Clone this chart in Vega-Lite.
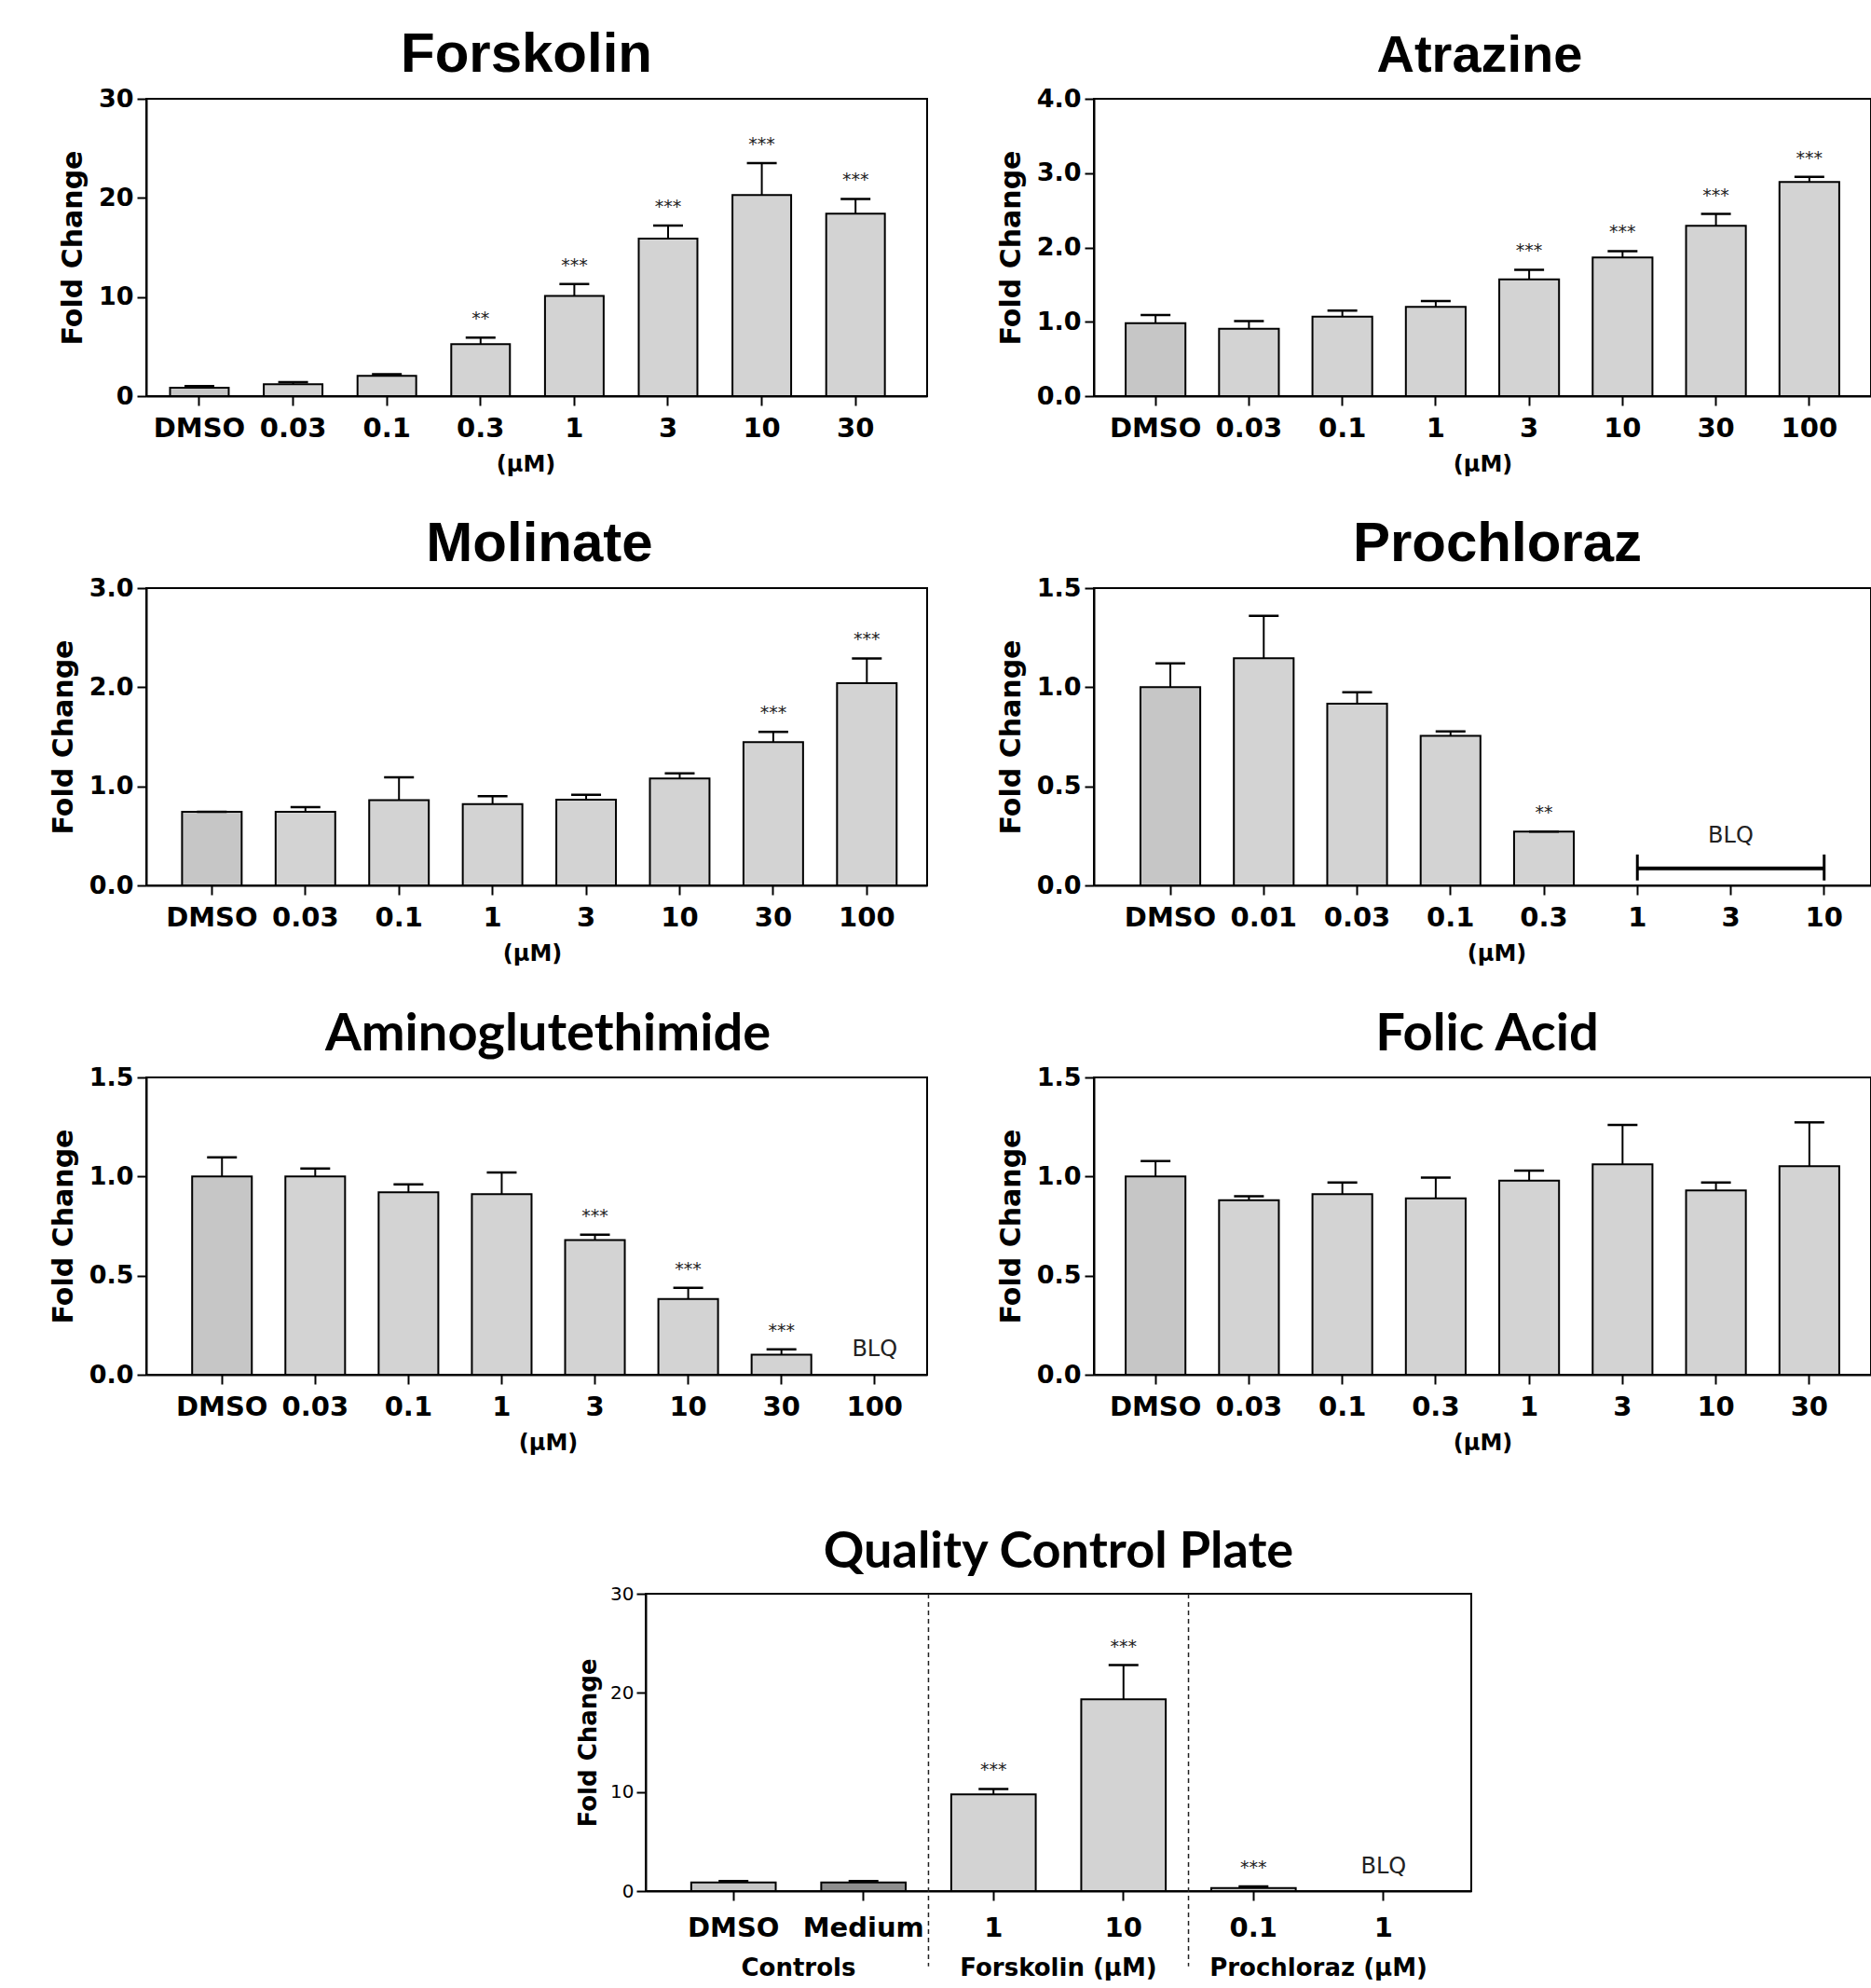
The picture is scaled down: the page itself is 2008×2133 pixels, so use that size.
{
  "$schema": "https://vega.github.io/schema/vega-lite/v6.json",
  "padding": {"left": 52, "top": 28, "right": 0, "bottom": 0},
  "background": "white",
  "datasets": {
    "forskolin": [
      {"dose": "DMSO", "mean": 0.85, "upper": 1.0, "sig": ""},
      {"dose": "0.03", "mean": 1.2, "upper": 1.4, "sig": ""},
      {"dose": "0.1", "mean": 2.05, "upper": 2.2, "sig": ""},
      {"dose": "0.3", "mean": 5.25, "upper": 5.9, "sig": "**"},
      {"dose": "1", "mean": 10.1, "upper": 11.3, "sig": "***"},
      {"dose": "3", "mean": 15.9, "upper": 17.2, "sig": "***"},
      {"dose": "10", "mean": 20.3, "upper": 23.5, "sig": "***"},
      {"dose": "30", "mean": 18.4, "upper": 19.9, "sig": "***"}
    ],
    "atrazine": [
      {"dose": "DMSO", "mean": 0.98, "upper": 1.09, "sig": ""},
      {"dose": "0.03", "mean": 0.905, "upper": 1.01, "sig": ""},
      {"dose": "0.1", "mean": 1.07, "upper": 1.15, "sig": ""},
      {"dose": "1", "mean": 1.2, "upper": 1.28, "sig": ""},
      {"dose": "3", "mean": 1.57, "upper": 1.7, "sig": "***"},
      {"dose": "10", "mean": 1.865, "upper": 1.95, "sig": "***"},
      {"dose": "30", "mean": 2.29, "upper": 2.45, "sig": "***"},
      {"dose": "100", "mean": 2.88, "upper": 2.95, "sig": "***"}
    ],
    "molinate": [
      {"dose": "DMSO", "mean": 0.743, "upper": 0.743, "sig": ""},
      {"dose": "0.03", "mean": 0.743, "upper": 0.79, "sig": ""},
      {"dose": "0.1", "mean": 0.86, "upper": 1.09, "sig": ""},
      {"dose": "1", "mean": 0.82, "upper": 0.9, "sig": ""},
      {"dose": "3", "mean": 0.865, "upper": 0.915, "sig": ""},
      {"dose": "10", "mean": 1.08, "upper": 1.13, "sig": ""},
      {"dose": "30", "mean": 1.445, "upper": 1.55, "sig": "***"},
      {"dose": "100", "mean": 2.04, "upper": 2.29, "sig": "***"}
    ],
    "prochloraz": [
      {"dose": "DMSO", "mean": 1.0, "upper": 1.12, "sig": ""},
      {"dose": "0.01", "mean": 1.146, "upper": 1.36, "sig": ""},
      {"dose": "0.03", "mean": 0.917, "upper": 0.974, "sig": ""},
      {"dose": "0.1", "mean": 0.755, "upper": 0.777, "sig": ""},
      {"dose": "0.3", "mean": 0.272, "upper": 0.272, "sig": "**"}
    ],
    "prochloraz_blq": [{"start": "1", "end": "10", "level": 0.086}],
    "prochloraz_caps": [
      {"dose": "1", "lo": 0.025, "hi": 0.156},
      {"dose": "10", "lo": 0.025, "hi": 0.156}
    ],
    "prochloraz_note": [{"dose": "3", "y": 0.25, "note": "BLQ"}],
    "amino": [
      {"dose": "DMSO", "mean": 1.0, "upper": 1.097, "sig": ""},
      {"dose": "0.03", "mean": 1.0, "upper": 1.04, "sig": ""},
      {"dose": "0.1", "mean": 0.92, "upper": 0.96, "sig": ""},
      {"dose": "1", "mean": 0.911, "upper": 1.02, "sig": ""},
      {"dose": "3", "mean": 0.679, "upper": 0.706, "sig": "***"},
      {"dose": "10", "mean": 0.382, "upper": 0.439, "sig": "***"},
      {"dose": "30", "mean": 0.101, "upper": 0.128, "sig": "***"}
    ],
    "amino_note": [{"dose": "100", "y": 0.126, "note": "BLQ"}],
    "folic": [
      {"dose": "DMSO", "mean": 1.0, "upper": 1.078, "sig": ""},
      {"dose": "0.03", "mean": 0.881, "upper": 0.9, "sig": ""},
      {"dose": "0.1", "mean": 0.911, "upper": 0.97, "sig": ""},
      {"dose": "0.3", "mean": 0.89, "upper": 0.995, "sig": ""},
      {"dose": "1", "mean": 0.979, "upper": 1.03, "sig": ""},
      {"dose": "3", "mean": 1.061, "upper": 1.26, "sig": ""},
      {"dose": "10", "mean": 0.93, "upper": 0.97, "sig": ""},
      {"dose": "30", "mean": 1.052, "upper": 1.273, "sig": ""}
    ],
    "qc": [
      {"key": "C|DMSO", "mean": 0.86, "upper": 1.0, "sig": ""},
      {"key": "C|Medium", "mean": 0.86, "upper": 1.0, "sig": ""},
      {"key": "F|1", "mean": 9.75, "upper": 10.3, "sig": "***"},
      {"key": "F|10", "mean": 19.35, "upper": 22.8, "sig": "***"},
      {"key": "P|0.1", "mean": 0.3, "upper": 0.48, "sig": "***"}
    ],
    "qc_note": [{"key": "P|1", "y": 2.46, "note": "BLQ"}],
    "qc_groups": [{"group": "Forskolin (µM)"}, {"group": "Prochloraz (µM)"}]
  },
  "concat": [
    {
      "width": 838, "height": 319,
      "title": {"text": "Forskolin", "font": "Liberation Sans", "fontSize": 60, "fontWeight": "bold", "baseline": "alphabetic", "offset": -45, "dx": -11, "color": "black"},
      "data": {"name": "forskolin"},
      "encoding": {"x": {"field": "dose", "type": "nominal", "title": "(µM)", "scale": {"domain": ["DMSO", "0.03", "0.1", "0.3", "1", "3", "10", "30"], "paddingInner": 0.374, "paddingOuter": 0.352, "align": 0.36}, "axis": {"titleX": 407}}},
      "layer": [
        {"mark": {"type": "bar", "stroke": "black", "strokeWidth": 2}, "encoding": {"y": {"field": "mean", "type": "quantitative", "title": "Fold Change", "scale": {"domain": [0, 30], "nice": false}, "axis": {"values": [0, 10, 20, 30]}}, "fill": {"condition": {"test": "datum.dose === 'DMSO'", "value": "#c6c6c6"}, "value": "#d3d3d3"}}},
        {"mark": {"type": "rule", "color": "black", "strokeWidth": 2}, "encoding": {"y": {"field": "mean", "type": "quantitative", "title": "Fold Change"}, "y2": {"field": "upper"}}},
        {"mark": {"type": "tick", "color": "black", "thickness": 2.5, "size": 32, "opacity": 1}, "encoding": {"y": {"field": "upper", "type": "quantitative", "title": "Fold Change"}}},
        {"mark": {"type": "text", "baseline": "alphabetic", "dy": -14, "fontSize": 19, "color": "#222"}, "encoding": {"y": {"field": "upper", "type": "quantitative", "title": "Fold Change"}, "text": {"field": "sig"}}}
      ]
    },
    {
      "width": 834, "height": 319,
      "title": {"text": "Atrazine", "font": "Liberation Sans", "fontSize": 56, "fontWeight": "bold", "baseline": "alphabetic", "offset": -41, "dx": -3, "color": "black"},
      "data": {"name": "atrazine"},
      "encoding": {"x": {"field": "dose", "type": "nominal", "title": "(µM)", "scale": {"domain": ["DMSO", "0.03", "0.1", "1", "3", "10", "30", "100"], "paddingInner": 0.36, "paddingOuter": 0.34}}},
      "layer": [
        {"mark": {"type": "bar", "stroke": "black", "strokeWidth": 2}, "encoding": {"y": {"field": "mean", "type": "quantitative", "title": "Fold Change", "scale": {"domain": [0, 4], "nice": false}, "axis": {"values": [0, 1, 2, 3, 4], "format": ".1f"}}, "fill": {"condition": {"test": "datum.dose === 'DMSO'", "value": "#c6c6c6"}, "value": "#d3d3d3"}}},
        {"mark": {"type": "rule", "color": "black", "strokeWidth": 2}, "encoding": {"y": {"field": "mean", "type": "quantitative", "title": "Fold Change"}, "y2": {"field": "upper"}}},
        {"mark": {"type": "tick", "color": "black", "thickness": 2.5, "size": 32, "opacity": 1}, "encoding": {"y": {"field": "upper", "type": "quantitative", "title": "Fold Change"}}},
        {"mark": {"type": "text", "baseline": "alphabetic", "dy": -14, "fontSize": 19, "color": "#222"}, "encoding": {"y": {"field": "upper", "type": "quantitative", "title": "Fold Change"}, "text": {"field": "sig"}}}
      ]
    },
    {
      "width": 838, "height": 319,
      "title": {"text": "Molinate", "font": "Liberation Sans", "fontSize": 60, "fontWeight": "bold", "baseline": "alphabetic", "offset": -45, "dx": 3, "color": "black"},
      "data": {"name": "molinate"},
      "encoding": {"x": {"field": "dose", "type": "nominal", "title": "(µM)", "scale": {"domain": ["DMSO", "0.03", "0.1", "1", "3", "10", "30", "100"], "paddingInner": 0.363, "paddingOuter": 0.354, "align": 0.54}, "axis": {"titleX": 414}}},
      "layer": [
        {"mark": {"type": "bar", "stroke": "black", "strokeWidth": 2}, "encoding": {"y": {"field": "mean", "type": "quantitative", "title": "Fold Change", "scale": {"domain": [0, 3], "nice": false}, "axis": {"values": [0, 1, 2, 3], "format": ".1f"}}, "fill": {"condition": {"test": "datum.dose === 'DMSO'", "value": "#c6c6c6"}, "value": "#d3d3d3"}}},
        {"mark": {"type": "rule", "color": "black", "strokeWidth": 2}, "encoding": {"y": {"field": "mean", "type": "quantitative", "title": "Fold Change"}, "y2": {"field": "upper"}}},
        {"mark": {"type": "tick", "color": "black", "thickness": 2.5, "size": 32, "opacity": 1}, "encoding": {"y": {"field": "upper", "type": "quantitative", "title": "Fold Change"}}},
        {"mark": {"type": "text", "baseline": "alphabetic", "dy": -14, "fontSize": 19, "color": "#222"}, "encoding": {"y": {"field": "upper", "type": "quantitative", "title": "Fold Change"}, "text": {"field": "sig"}}}
      ]
    },
    {
      "width": 834, "height": 319,
      "title": {"text": "Prochloraz", "font": "Liberation Sans", "fontSize": 60, "fontWeight": "bold", "baseline": "alphabetic", "offset": -45, "dx": 16, "color": "black"},
      "data": {"name": "prochloraz"},
      "encoding": {"x": {"field": "dose", "type": "nominal", "title": "(µM)", "scale": {"domain": ["DMSO", "0.01", "0.03", "0.1", "0.3", "1", "3", "10"], "paddingInner": 0.36, "paddingOuter": 0.34, "align": 0.733}, "axis": {"titleX": 432}}},
      "layer": [
        {"mark": {"type": "bar", "stroke": "black", "strokeWidth": 2}, "encoding": {"y": {"field": "mean", "type": "quantitative", "title": "Fold Change", "scale": {"domain": [0, 1.5], "nice": false}, "axis": {"values": [0, 0.5, 1, 1.5], "format": ".1f"}}, "fill": {"condition": {"test": "datum.dose === 'DMSO'", "value": "#c6c6c6"}, "value": "#d3d3d3"}}},
        {"mark": {"type": "rule", "color": "black", "strokeWidth": 2}, "encoding": {"y": {"field": "mean", "type": "quantitative", "title": "Fold Change"}, "y2": {"field": "upper"}}},
        {"mark": {"type": "tick", "color": "black", "thickness": 2.5, "size": 32, "opacity": 1}, "encoding": {"y": {"field": "upper", "type": "quantitative", "title": "Fold Change"}}},
        {"mark": {"type": "text", "baseline": "alphabetic", "dy": -14, "fontSize": 19, "color": "#222"}, "encoding": {"y": {"field": "upper", "type": "quantitative", "title": "Fold Change"}, "text": {"field": "sig"}}},
        {"data": {"name": "prochloraz_blq"}, "mark": {"type": "rule", "color": "black", "strokeWidth": 4}, "encoding": {"x": {"field": "start", "type": "nominal", "title": "(µM)"}, "x2": {"field": "end"}, "y": {"field": "level", "type": "quantitative", "title": "Fold Change"}}},
        {"data": {"name": "prochloraz_caps"}, "mark": {"type": "rule", "color": "black", "strokeWidth": 3}, "encoding": {"y": {"field": "lo", "type": "quantitative", "title": "Fold Change"}, "y2": {"field": "hi"}}},
        {"data": {"name": "prochloraz_note"}, "mark": {"type": "text", "baseline": "middle", "fontSize": 24, "color": "#222"}, "encoding": {"y": {"field": "y", "type": "quantitative", "title": "Fold Change"}, "text": {"field": "note"}}}
      ]
    },
    {
      "width": 838, "height": 319,
      "title": {"text": "Aminoglutethimide", "font": "Lato", "fontSize": 56, "fontWeight": "bold", "baseline": "alphabetic", "offset": -41, "dx": 12, "color": "black"},
      "data": {"name": "amino"},
      "encoding": {"x": {"field": "dose", "type": "nominal", "title": "(µM)", "scale": {"domain": ["DMSO", "0.03", "0.1", "1", "3", "10", "30", "100"], "paddingInner": 0.36, "paddingOuter": 0.367, "align": 0.67}, "axis": {"titleX": 431}}},
      "layer": [
        {"mark": {"type": "bar", "stroke": "black", "strokeWidth": 2}, "encoding": {"y": {"field": "mean", "type": "quantitative", "title": "Fold Change", "scale": {"domain": [0, 1.5], "nice": false}, "axis": {"values": [0, 0.5, 1, 1.5], "format": ".1f"}}, "fill": {"condition": {"test": "datum.dose === 'DMSO'", "value": "#c6c6c6"}, "value": "#d3d3d3"}}},
        {"mark": {"type": "rule", "color": "black", "strokeWidth": 2}, "encoding": {"y": {"field": "mean", "type": "quantitative", "title": "Fold Change"}, "y2": {"field": "upper"}}},
        {"mark": {"type": "tick", "color": "black", "thickness": 2.5, "size": 32, "opacity": 1}, "encoding": {"y": {"field": "upper", "type": "quantitative", "title": "Fold Change"}}},
        {"mark": {"type": "text", "baseline": "alphabetic", "dy": -14, "fontSize": 19, "color": "#222"}, "encoding": {"y": {"field": "upper", "type": "quantitative", "title": "Fold Change"}, "text": {"field": "sig"}}},
        {"data": {"name": "amino_note"}, "mark": {"type": "text", "baseline": "middle", "fontSize": 24, "color": "#222"}, "encoding": {"y": {"field": "y", "type": "quantitative", "title": "Fold Change"}, "text": {"field": "note"}}}
      ]
    },
    {
      "width": 834, "height": 319,
      "title": {"text": "Folic Acid", "font": "Lato", "fontSize": 56, "fontWeight": "bold", "baseline": "alphabetic", "offset": -41, "dx": 5, "color": "black"},
      "data": {"name": "folic"},
      "encoding": {"x": {"field": "dose", "type": "nominal", "title": "(µM)", "scale": {"domain": ["DMSO", "0.03", "0.1", "0.3", "1", "3", "10", "30"], "paddingInner": 0.36, "paddingOuter": 0.34}}},
      "layer": [
        {"mark": {"type": "bar", "stroke": "black", "strokeWidth": 2}, "encoding": {"y": {"field": "mean", "type": "quantitative", "title": "Fold Change", "scale": {"domain": [0, 1.5], "nice": false}, "axis": {"values": [0, 0.5, 1, 1.5], "format": ".1f"}}, "fill": {"condition": {"test": "datum.dose === 'DMSO'", "value": "#c6c6c6"}, "value": "#d3d3d3"}}},
        {"mark": {"type": "rule", "color": "black", "strokeWidth": 2}, "encoding": {"y": {"field": "mean", "type": "quantitative", "title": "Fold Change"}, "y2": {"field": "upper"}}},
        {"mark": {"type": "tick", "color": "black", "thickness": 2.5, "size": 32, "opacity": 1}, "encoding": {"y": {"field": "upper", "type": "quantitative", "title": "Fold Change"}}}
      ]
    },
    {
      "vconcat": [
        {"width": 10, "height": 29, "data": {"values": []}, "mark": "point", "encoding": {}, "view": {"stroke": null}},
        {
          "hconcat": [
            {"width": 536, "height": 319, "data": {"values": []}, "mark": "point", "encoding": {}, "view": {"stroke": null}},
            {
              "width": 886, "height": 319,
              "title": {"text": "Quality Control Plate", "font": "Lato", "fontSize": 54, "fontWeight": "bold", "baseline": "alphabetic", "offset": -36, "color": "black"},
              "layer": [
                {
                  "data": {"name": "qc"},
                  "encoding": {"x": {"field": "key", "type": "nominal", "title": null, "scale": {"domain": ["C|DMSO", "C|Medium", "F|1", "F|10", "P|0.1", "P|1"], "paddingInner": 0.35, "paddingOuter": 0.35}, "axis": {"labelExpr": "split(datum.label, '|')[1]", "labelPadding": 15}}},
                  "layer": [
                    {"mark": {"type": "bar", "stroke": "black", "strokeWidth": 2}, "encoding": {"y": {"field": "mean", "type": "quantitative", "title": "Fold Change", "scale": {"domain": [0, 30], "nice": false}, "axis": {"values": [0, 10, 20, 30], "labelFontSize": 20, "labelFontWeight": "normal", "labelPadding": 3, "titleFontSize": 26, "titlePadding": 10}}, "fill": {"condition": [{"test": "datum.key === 'C|DMSO'", "value": "#c6c6c6"}, {"test": "datum.key === 'C|Medium'", "value": "#8e8e8e"}], "value": "#d3d3d3"}}},
                    {"mark": {"type": "rule", "color": "black", "strokeWidth": 2}, "encoding": {"y": {"field": "mean", "type": "quantitative", "title": "Fold Change"}, "y2": {"field": "upper"}}},
                    {"mark": {"type": "tick", "color": "black", "thickness": 2.5, "size": 32, "opacity": 1}, "encoding": {"y": {"field": "upper", "type": "quantitative", "title": "Fold Change"}}},
                    {"mark": {"type": "text", "baseline": "alphabetic", "dy": -14, "fontSize": 19, "color": "#222"}, "encoding": {"y": {"field": "upper", "type": "quantitative", "title": "Fold Change"}, "text": {"field": "sig"}}},
                    {"data": {"name": "qc_note"}, "mark": {"type": "text", "baseline": "middle", "fontSize": 24, "color": "#222"}, "encoding": {"y": {"field": "y", "type": "quantitative", "title": "Fold Change"}, "text": {"field": "note"}}}
                  ]
                },
                {
                  "data": {"name": "qc_groups"},
                  "mark": {"type": "rule", "strokeDash": [5, 4], "strokeWidth": 1.5, "color": "#222"},
                  "encoding": {
                    "x": {"field": "group", "type": "nominal", "title": null, "bandPosition": 0, "scale": {"domain": ["Controls", "Forskolin (µM)", "Prochloraz (µM)"], "paddingInner": 0, "paddingOuter": 0.0875}, "axis": {"orient": "bottom", "offset": 64, "ticks": false, "tickSize": 0, "domain": false, "labelPadding": 5, "labelFontSize": 26, "labelLimit": 600}},
                    "y": {"datum": 30, "type": "quantitative"},
                    "y2": {"datum": -7.6}
                  }
                }
              ],
              "resolve": {"scale": {"x": "independent"}}
            }
          ],
          "spacing": 0, "bounds": "flush"
        }
      ],
      "spacing": 0, "bounds": "flush"
    }
  ],
  "columns": 2,
  "bounds": "flush",
  "spacing": {"row": 206, "column": 179},
  "config": {
    "font": "DejaVu Sans",
    "view": {"stroke": "black", "strokeWidth": 2},
    "axis": {"grid": false, "domainColor": "black", "domainWidth": 2, "tickColor": "black", "tickWidth": 2, "tickSize": 10, "labelColor": "black", "labelFont": "DejaVu Sans", "labelFontWeight": "bold", "titleColor": "black", "titleFont": "DejaVu Sans", "titleFontWeight": "bold", "labelOverlap": false},
    "axisX": {"labelAngle": 0, "labelFontSize": 29, "labelPadding": 10, "titleFontSize": 24, "titlePadding": 12},
    "axisY": {"labelFontSize": 27, "labelPadding": 4, "titleFontSize": 30, "titlePadding": 12},
    "text": {"font": "DejaVu Sans"},
    "title": {"color": "black", "anchor": "middle"}
  }
}
